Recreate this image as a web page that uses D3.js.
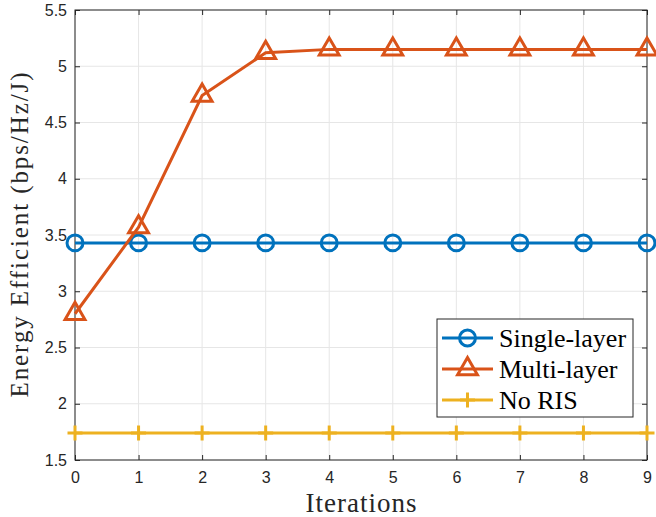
<!DOCTYPE html>
<meta charset='utf-8'>
<style>
body { margin: 0; background: #fff; }
</style>
<script src='https://d3js.org/d3.v7.min.js'></script>
<body>
<script>
'use strict'

// Data
let iterations = [0, 1, 2, 3, 4, 5, 6, 7, 8, 9],
	single_layer = [3.43, 3.43, 3.43, 3.43, 3.43, 3.43, 3.43, 3.43, 3.43, 3.43],
	multi_layer = [2.80, 3.57, 4.74, 5.12, 5.15, 5.15, 5.15, 5.15, 5.15, 5.15],
	no_ris = [1.74, 1.74, 1.74, 1.74, 1.74, 1.74, 1.74, 1.74, 1.74, 1.74],
	x_ticks = [0, 1, 2, 3, 4, 5, 6, 7, 8, 9],
	y_ticks = [1.5, 2, 2.5, 3, 3.5, 4, 4.5, 5, 5.5],
	series_names = ['Single-layer', 'Multi-layer', 'No RIS']

let series = [
	{name: series_names[0], values: single_layer, color: '#0072bd', marker: 'circle'},
	{name: series_names[1], values: multi_layer, color: '#d95319', marker: 'triangle'},
	{name: series_names[2], values: no_ris, color: '#edb120', marker: 'plus'}]

let W = 656, H = 517,
	margin = {top: 10, right: 9, bottom: 57, left: 75},
	width = W - margin.left - margin.right,
	height = H - margin.top - margin.bottom,
	sans = "'Liberation Sans', Arial, sans-serif",
	serif = "'Liberation Serif', 'Times New Roman', serif",
	lw = 3

let svg = d3.select('body').append('svg').attr('width', W).attr('height', H),
	vis = svg.append('g').attr('transform', `translate(${margin.left},${margin.top})`)

let x = d3.scaleLinear([0, 9], [0, width]),
	y = d3.scaleLinear([1.5, 5.5], [height, 0])

// grid
vis.append('g').selectAll('line').data(x_ticks).join('line')
	.attr('x1', d => x(d)).attr('x2', d => x(d)).attr('y1', 0).attr('y2', height)
	.attr('stroke', '#e6e6e6').attr('stroke-width', 1)
vis.append('g').selectAll('line').data(y_ticks).join('line')
	.attr('y1', d => y(d)).attr('y2', d => y(d)).attr('x1', 0).attr('x2', width)
	.attr('stroke', '#e6e6e6').attr('stroke-width', 1)

// axes box with inward ticks on all sides
let axis_style = g => {
	g.attr('font-family', sans).attr('font-size', 16)
	g.select('.domain').remove()
	g.selectAll('line').attr('stroke', '#262626')
	g.selectAll('text').attr('fill', '#262626') }
vis.append('g').attr('transform', `translate(0,${height})`)
	.call(d3.axisBottom(x).tickValues(x_ticks).tickSizeInner(-5).tickSizeOuter(0).tickPadding(12).tickFormat(d3.format('d')))
	.call(axis_style)
vis.append('g')
	.call(d3.axisLeft(y).tickValues(y_ticks).tickSizeInner(-5).tickSizeOuter(0).tickPadding(8).tickFormat(d => d))
	.call(axis_style)
vis.append('g')
	.call(d3.axisTop(x).tickValues(x_ticks).tickSizeInner(-5).tickSizeOuter(0).tickFormat(''))
	.call(axis_style)
vis.append('g').attr('transform', `translate(${width},0)`)
	.call(d3.axisRight(y).tickValues(y_ticks).tickSizeInner(-5).tickSizeOuter(0).tickFormat(''))
	.call(axis_style)
vis.append('rect').attr('width', width).attr('height', height)
	.attr('fill', 'none').attr('stroke', '#262626').attr('stroke-width', 1)

// markers
let marker_path = {
	circle: d3.symbol(d3.symbolCircle, 200)(),
	triangle: d3.symbol(d3.symbolTriangle, 170)(),
	plus: 'M-7.5,0H7.5M0,-7.5V7.5' }

let line = d3.line().x((d, i) => x(iterations[i])).y(d => y(d))
let plots = vis.append('g').selectAll('g').data(series).join('g')
plots.append('path').attr('d', d => line(d.values))
	.attr('fill', 'none').attr('stroke', d => d.color).attr('stroke-width', lw)
plots.each(function(s) {
	d3.select(this).selectAll('path.mk').data(s.values).join('path').attr('class', 'mk')
		.attr('d', marker_path[s.marker])
		.attr('transform', (d, i) => `translate(${x(iterations[i])},${y(d)})`)
		.attr('fill', 'none').attr('stroke', s.color).attr('stroke-width', lw) })

// legend
let leg = svg.append('g').attr('transform', 'translate(437,319)')
leg.append('rect').attr('width', 196).attr('height', 98)
	.attr('fill', '#fff').attr('stroke', '#262626').attr('stroke-width', 1)
let items = leg.selectAll('g').data(series).join('g')
	.attr('transform', (d, i) => `translate(0,${19 + i * 31})`)
items.append('line').attr('x1', 5).attr('x2', 56)
	.attr('stroke', d => d.color).attr('stroke-width', lw)
items.append('path').attr('d', d => marker_path[d.marker]).attr('transform', 'translate(30.5,0)')
	.attr('fill', 'none').attr('stroke', d => d.color).attr('stroke-width', lw)
items.append('text').attr('font-family', serif).attr('fill', '#000')
	.attr('x', 62).attr('dy', '0.33em')
	.attr('font-size', 26).text(d => d.name)

// axis labels
svg.append('text').attr('font-family', serif).attr('font-size', 27).attr('fill', '#262626')
	.attr('text-anchor', 'middle').attr('x', margin.left + width / 2).attr('y', 512)
	.attr('textLength', 111).text('Iterations')
svg.append('text').attr('font-family', serif).attr('font-size', 25).attr('fill', '#262626')
	.attr('text-anchor', 'middle')
	.attr('transform', `translate(28,${margin.top + height / 2}) rotate(-90)`)
	.attr('textLength', 325).text('Energy Efficient (bps/Hz/J)')
</script>
